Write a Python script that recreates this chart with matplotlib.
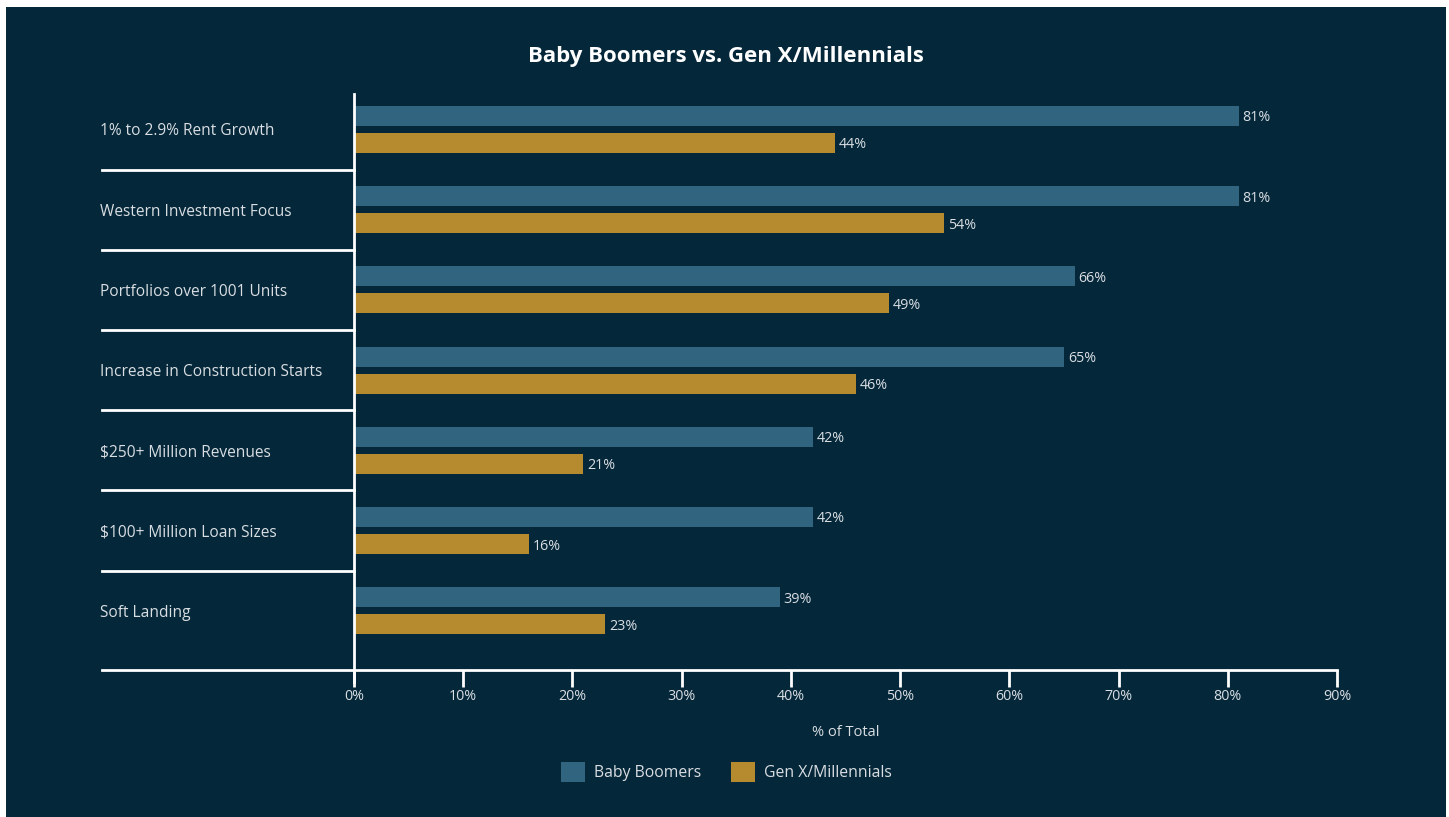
import matplotlib.pyplot as plt
from matplotlib.patches import Rectangle
from matplotlib.lines import Line2D
import numpy as np

categories = [
    "1% to 2.9% Rent Growth",
    "Western Investment Focus",
    "Portfolios over 1001 Units",
    "Increase in Construction Starts",
    "$250+ Million Revenues",
    "$100+ Million Loan Sizes",
    "Soft Landing",
]
boomers = [81, 81, 66, 65, 42, 42, 39]
genx = [44, 54, 49, 46, 21, 16, 23]
xticks = [0, 10, 20, 30, 40, 50, 60, 70, 80, 90]

BG = "#04273a"
BLUE = "#31647f"
GOLD = "#b68a2f"
TXT = "#d9dee2"
FONT = ["Open Sans", "DejaVu Sans"]

plt.rcParams["font.family"] = FONT

W, H = 1449, 817
fig = plt.figure(figsize=(W / 100, H / 100), dpi=100)
fig.patch.set_facecolor("white")
fig.add_artist(Rectangle((6 / W, 0), (1446 - 6) / W, (817 - 7) / H,
                         transform=fig.transFigure, facecolor=BG,
                         edgecolor="none", zorder=-10))

# axes box in pixels: x 354..1337, y 94..670
x0, x1, y0, y1 = 354, 1337, 94, 670
ax = fig.add_axes([x0 / W, 1 - y1 / H, (x1 - x0) / W, (y1 - y0) / H])
ax.set_facecolor("none")

step = 80.2
top = -(129.5 - y0) / step
bottom = (y1 - 129.5) / step
ax.set_xlim(0, 90)
ax.set_ylim(bottom, top)

pos = np.arange(len(categories))
bh = 20 / step
off = 13.5 / step
ax.barh(pos - off, boomers, height=bh, color=BLUE, label="Baby Boomers")
ax.barh(pos + off, genx, height=bh, color=GOLD, label="Gen X/Millennials")

for p, b, g in zip(pos, boomers, genx):
    ax.text(b + 0.35, p - off, f"{b}%", va="center_baseline", ha="left",
            color=TXT, fontsize=10.3)
    ax.text(g + 0.35, p + off, f"{g}%", va="center_baseline", ha="left",
            color=TXT, fontsize=10.3)

for s in ["top", "right"]:
    ax.spines[s].set_visible(False)
for s in ["left", "bottom"]:
    ax.spines[s].set_color("white")
    ax.spines[s].set_linewidth(2)

ax.set_xticks(xticks)
ax.set_xticklabels([f"{t}%" for t in xticks])
ax.tick_params(axis="x", colors="white", length=12, width=2, pad=1.5,
               labelcolor=TXT, labelsize=10.3)
ax.set_yticks([])
ax.set_xlabel("% of Total", color=TXT, fontsize=10.5, labelpad=15)

# category labels and separators to the left of the axis
lx = (102 - x0) / (x1 - x0)
tx = (100 - x0) / (x1 - x0)
blend = ax.get_yaxis_transform()
for p, name in zip(pos, categories):
    ax.text(tx, p, name, transform=blend, ha="left", va="center_baseline",
            color=TXT, fontsize=11.2)
for p in pos[:-1] + 0.5:
    ax.add_line(Line2D([lx, 0], [p, p], transform=blend, color="white",
                       lw=2, clip_on=False))
ax.add_line(Line2D([lx, 0], [bottom, bottom], transform=blend, color="white",
                   lw=2, clip_on=False))
ax.add_line(Line2D([0, 0], [bottom, bottom + 12 / step], transform=blend,
                   color="white", lw=2, clip_on=False))

fig.text(726 / W, 1 - 54 / H, "Baby Boomers vs. Gen X/Millennials",
         ha="center", va="center_baseline", color="white", fontsize=16,
         fontweight="bold")

leg = fig.legend(loc="center", bbox_to_anchor=(726 / W, 1 - 772 / H),
                 ncol=2, frameon=False, fontsize=11.3, handlelength=1.53,
                 handleheight=1.53, columnspacing=1.9, handletextpad=0.57)
for t in leg.get_texts():
    t.set_color(TXT)

fig.savefig("out.png", dpi=100, facecolor=fig.get_facecolor())
